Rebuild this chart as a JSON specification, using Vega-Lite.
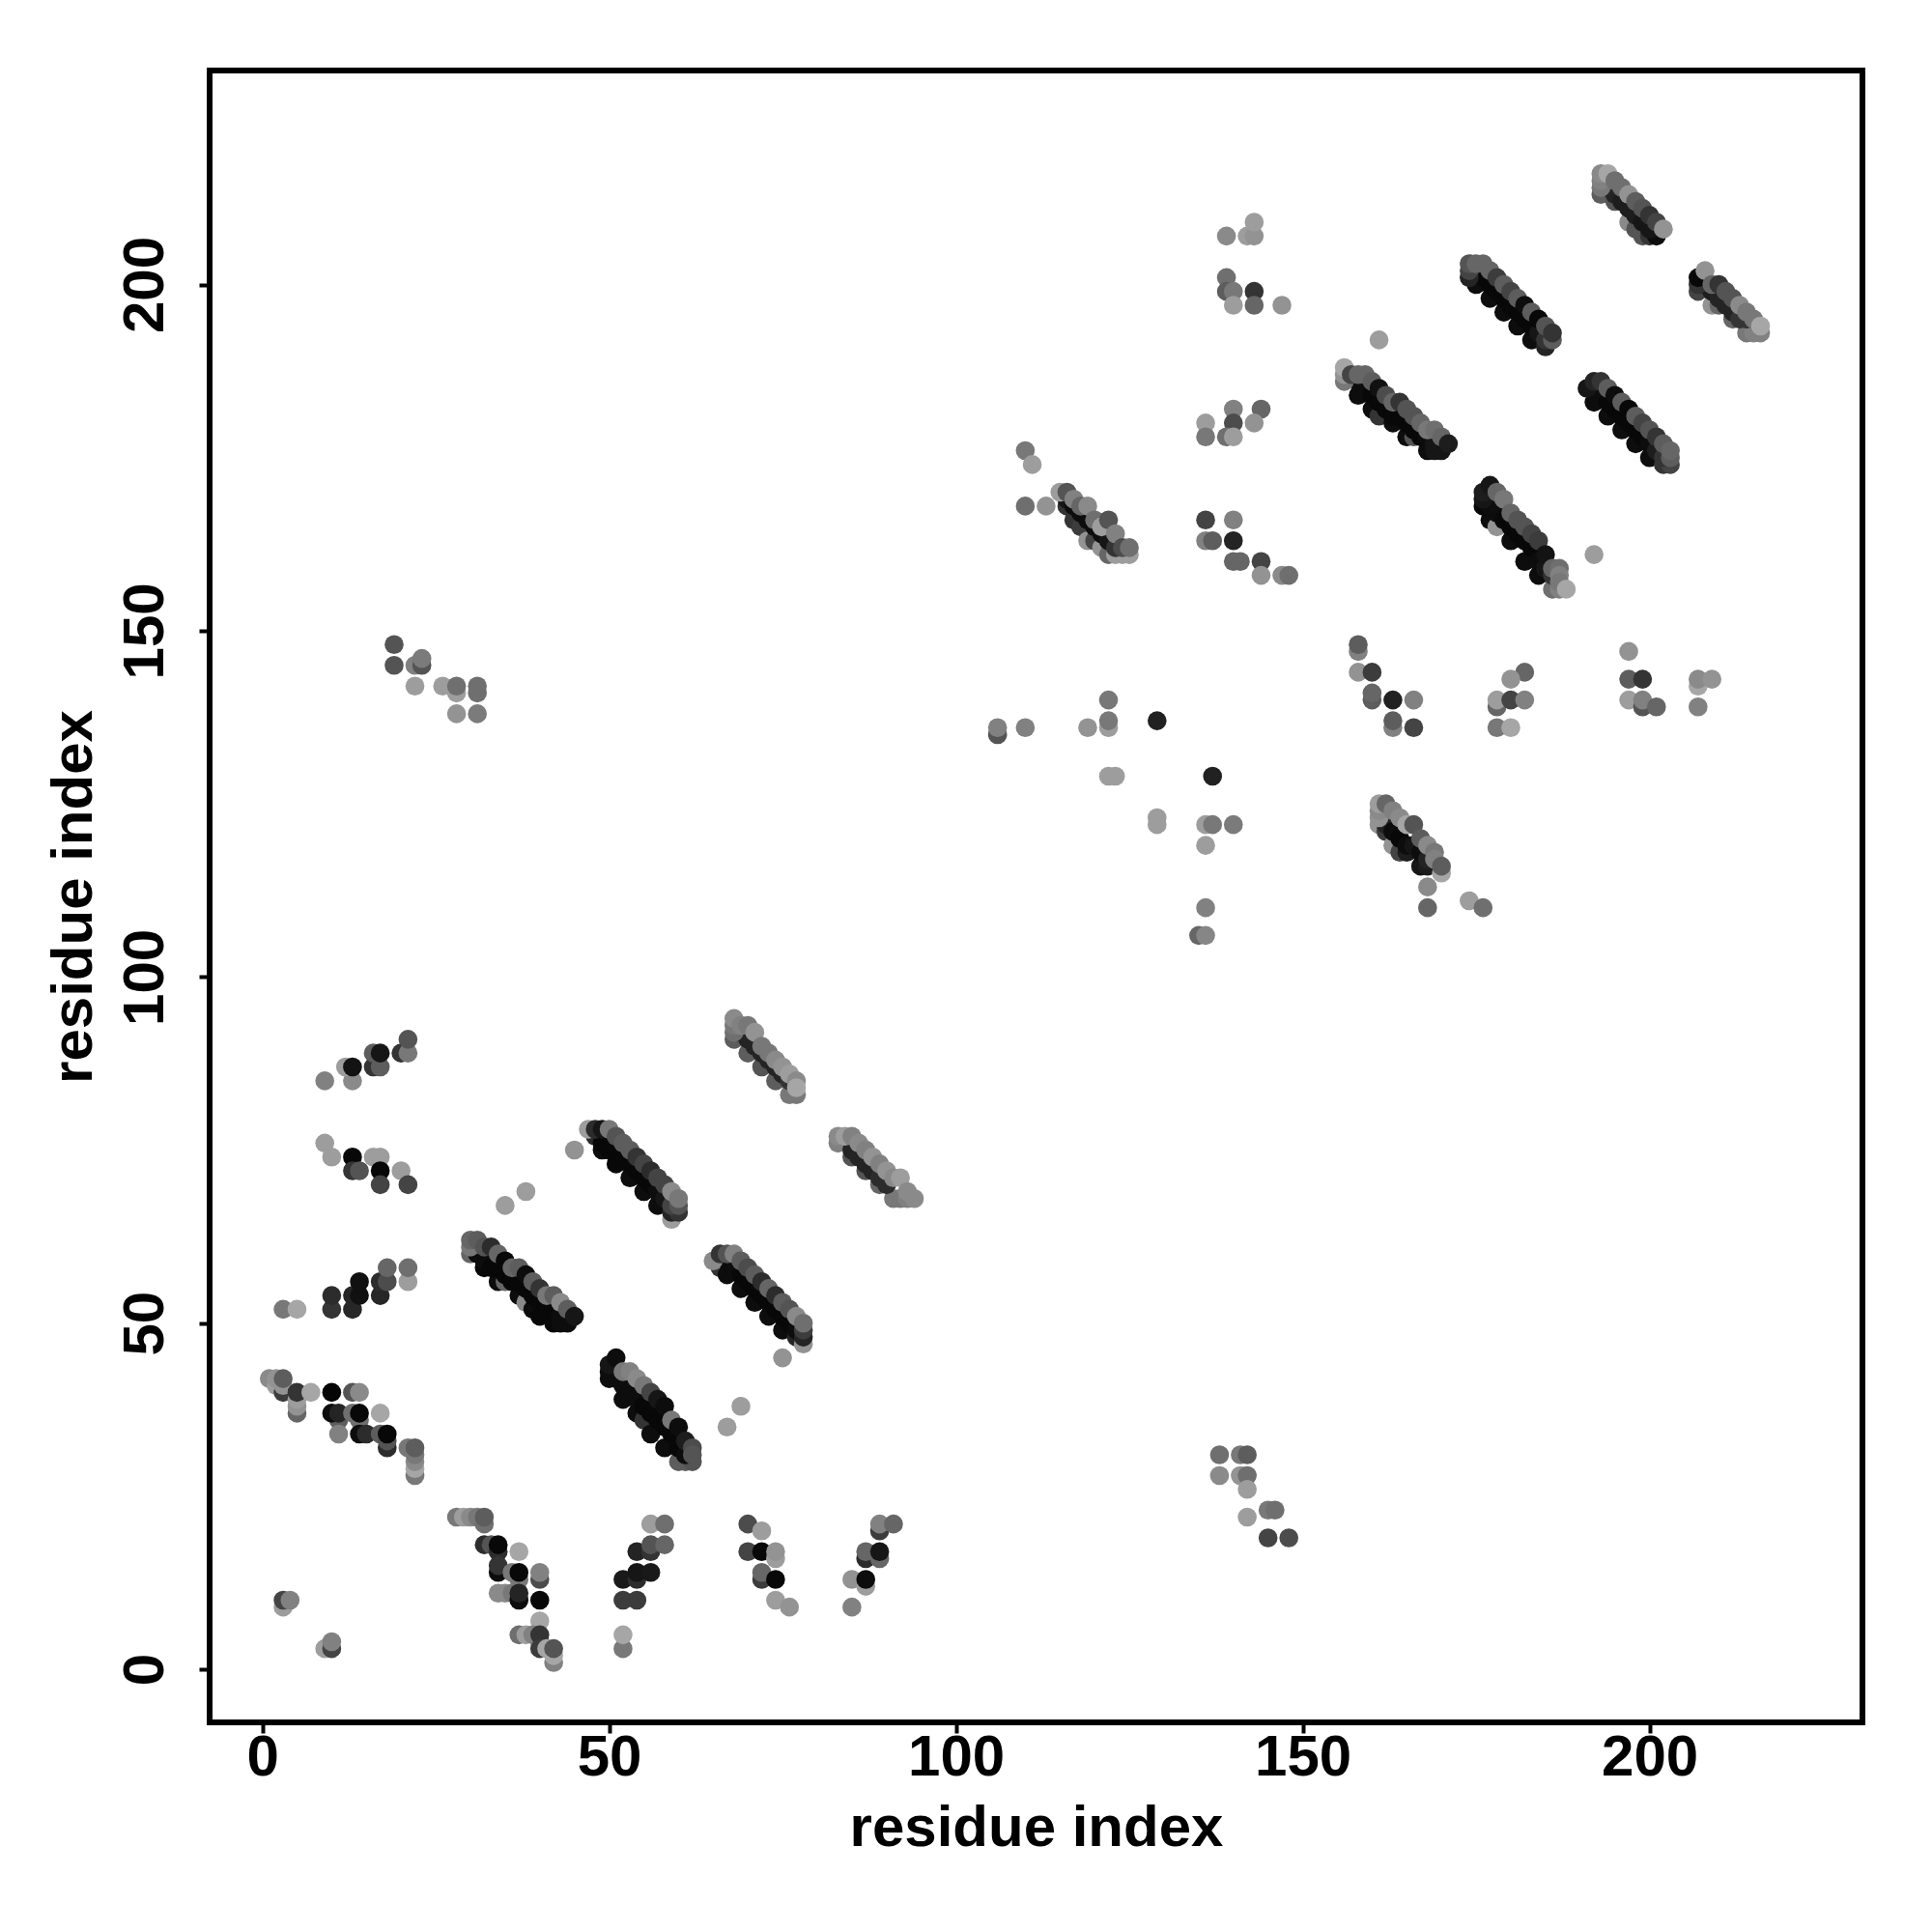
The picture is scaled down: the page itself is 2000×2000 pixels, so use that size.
{"$schema":"https://vega.github.io/schema/vega-lite/v6.json","width":1711,"height":1710,"autosize":{"type":"none"},"padding":{"left":217,"top":73,"right":72,"bottom":217},"background":"white","config":{"view":{"stroke":"black","strokeWidth":6,"fill":"white"},"font":"Liberation Sans"},"datasets":{"contacts":[
{"x":3,"y":9,"w":0.9},{"x":3,"y":10,"w":0.4},{"x":4,"y":10,"w":0.75},{"x":9,"y":3,"w":0.9},{"x":10,"y":3,"w":0.4},{"x":10,"y":4,"w":0.75},
{"x":28,"y":22,"w":0.7},{"x":29,"y":22,"w":0.9},{"x":30,"y":22,"w":0.8},{"x":31,"y":22,"w":0.7},{"x":32,"y":21,"w":0.65},{"x":32,"y":22,"w":0.55},{"x":32,"y":18,"w":0.25},{"x":33,"y":18,"w":0.5},{"x":34,"y":17,"w":0.25},{"x":34,"y":18,"w":0.03},{"x":34,"y":14,"w":0.05},{"x":34,"y":15,"w":0.3},{"x":34,"y":11,"w":0.8},{"x":37,"y":17,"w":0.95},{"x":36,"y":14,"w":0.7},{"x":37,"y":13,"w":0.7},{"x":37,"y":14,"w":0.03},{"x":35,"y":11,"w":0.8},{"x":36,"y":11,"w":0.7},{"x":37,"y":10,"w":0.05},{"x":37,"y":11,"w":0.2},{"x":40,"y":13,"w":0.45},{"x":40,"y":14,"w":0.75},{"x":40,"y":10,"w":0.03},{"x":40,"y":7,"w":0.95},{"x":40,"y":4,"w":0.6},{"x":37,"y":5,"w":0.65},{"x":38,"y":5,"w":0.9},{"x":39,"y":5,"w":0.75},{"x":40,"y":5,"w":0.3},{"x":40,"y":3,"w":0.35},{"x":41,"y":3,"w":0.95},{"x":42,"y":1,"w":0.75},{"x":42,"y":2,"w":0.95},{"x":42,"y":3,"w":0.5},
{"x":52,"y":10,"w":0.35},{"x":54,"y":10,"w":0.35},{"x":52,"y":13,"w":0.12},{"x":54,"y":13,"w":0.25},{"x":54,"y":14,"w":0.1},{"x":56,"y":14,"w":0.12},{"x":54,"y":17,"w":0.2},{"x":56,"y":17,"w":0.3},{"x":56,"y":18,"w":0.5},{"x":58,"y":18,"w":0.6},{"x":56,"y":21,"w":0.9},{"x":58,"y":21,"w":0.65},{"x":52,"y":3,"w":0.7},{"x":52,"y":5,"w":0.95},
{"x":70,"y":21,"w":0.45},{"x":72,"y":20,"w":0.9},{"x":70,"y":17,"w":0.4},{"x":72,"y":17,"w":0.03},{"x":74,"y":16,"w":0.9},{"x":74,"y":17,"w":0.85},{"x":72,"y":13,"w":0.35},{"x":72,"y":14,"w":0.6},{"x":74,"y":13,"w":0.03},{"x":74,"y":10,"w":0.9},{"x":76,"y":9,"w":0.85},
{"x":85,"y":9,"w":0.75},{"x":85,"y":13,"w":0.85},{"x":87,"y":12,"w":0.9},{"x":87,"y":13,"w":0.05},{"x":87,"y":16,"w":0.25},{"x":87,"y":17,"w":0.6},{"x":89,"y":16,"w":0.6},{"x":89,"y":17,"w":0.1},{"x":89,"y":20,"w":0.35},{"x":89,"y":21,"w":0.75},{"x":91,"y":21,"w":0.6},
{"x":1,"y":42,"w":0.8},{"x":2,"y":41,"w":0.9},{"x":2,"y":42,"w":0.85},{"x":3,"y":40,"w":0.35},{"x":3,"y":41,"w":0.85},{"x":3,"y":42,"w":0.55},{"x":5,"y":37,"w":0.6},{"x":5,"y":38,"w":0.85},{"x":5,"y":39,"w":0.9},{"x":5,"y":40,"w":0.3},{"x":7,"y":40,"w":0.95},
{"x":10,"y":40,"w":0.02},{"x":13,"y":40,"w":0.5},{"x":14,"y":40,"w":0.8},{"x":11,"y":36,"w":0.55},{"x":10,"y":37,"w":0.05},{"x":11,"y":37,"w":0.2},{"x":14,"y":36,"w":0.65},{"x":13,"y":37,"w":0.65},{"x":14,"y":37,"w":0.03},{"x":17,"y":37,"w":0.95},{"x":11,"y":34,"w":0.75},{"x":14,"y":34,"w":0.05},{"x":15,"y":34,"w":0.25},{"x":17,"y":34,"w":0.55},{"x":18,"y":32,"w":0.25},{"x":18,"y":33,"w":0.5},{"x":18,"y":34,"w":0.03},{"x":21,"y":32,"w":0.7},{"x":22,"y":28,"w":0.7},{"x":22,"y":29,"w":0.95},{"x":22,"y":30,"w":0.8},{"x":22,"y":31,"w":0.7},{"x":22,"y":32,"w":0.55},
{"x":3,"y":52,"w":0.7},{"x":5,"y":52,"w":0.95},{"x":10,"y":52,"w":0.3},{"x":10,"y":54,"w":0.25},{"x":13,"y":52,"w":0.22},{"x":13,"y":54,"w":0.22},{"x":14,"y":54,"w":0.07},{"x":14,"y":56,"w":0.07},{"x":17,"y":54,"w":0.22},{"x":17,"y":56,"w":0.25},{"x":18,"y":56,"w":0.45},{"x":18,"y":58,"w":0.6},{"x":21,"y":56,"w":0.9},{"x":21,"y":58,"w":0.65},
{"x":35,"y":67,"w":0.9},{"x":38,"y":69,"w":0.9},{"x":45,"y":75,"w":0.85},{"x":75,"y":45,"w":0.85},{"x":69,"y":38,"w":0.9},{"x":67,"y":35,"w":0.9},
{"x":19,"y":148,"w":0.5},{"x":19,"y":145,"w":0.5},{"x":22,"y":145,"w":0.75},{"x":23,"y":145,"w":0.5},{"x":23,"y":146,"w":0.72},{"x":22,"y":142,"w":0.9},{"x":26,"y":142,"w":0.9},{"x":28,"y":141,"w":0.9},{"x":28,"y":142,"w":0.65},{"x":31,"y":141,"w":0.65},{"x":31,"y":142,"w":0.65},{"x":28,"y":138,"w":0.85},{"x":31,"y":138,"w":0.72},
{"x":9,"y":85,"w":0.75},{"x":13,"y":85,"w":0.8},{"x":12,"y":87,"w":0.9},{"x":13,"y":87,"w":0.08},{"x":16,"y":87,"w":0.3},{"x":17,"y":87,"w":0.55},{"x":16,"y":89,"w":0.55},{"x":17,"y":89,"w":0.1},{"x":20,"y":89,"w":0.3},{"x":21,"y":89,"w":0.7},{"x":21,"y":91,"w":0.5},
{"x":9,"y":76,"w":0.9},{"x":10,"y":74,"w":0.9},{"x":13,"y":74,"w":0.03},{"x":16,"y":74,"w":0.9},{"x":17,"y":74,"w":0.9},{"x":13,"y":72,"w":0.3},{"x":14,"y":72,"w":0.5},{"x":17,"y":72,"w":0.03},{"x":20,"y":72,"w":0.9},{"x":17,"y":70,"w":0.4},{"x":21,"y":70,"w":0.4},
{"x":30,"y":60,"w":0.6},{"x":32,"y":58,"w":0.03},{"x":34,"y":56,"w":0.05},{"x":35,"y":56,"w":0.6},{"x":37,"y":54,"w":0.05},{"x":38,"y":53,"w":0.8},{"x":39,"y":52,"w":0.05},{"x":40,"y":51,"w":0.03},{"x":42,"y":50,"w":0.03},{"x":43,"y":50,"w":0.05},{"x":44,"y":50,"w":0.05},
{"x":31,"y":60,"w":0.05},{"x":32,"y":59,"w":0.05},{"x":33,"y":58,"w":0.03},{"x":34,"y":58,"w":0.03},{"x":35,"y":57,"w":0.03},{"x":36,"y":56,"w":0.03},{"x":37,"y":56,"w":0.03},{"x":38,"y":55,"w":0.03},{"x":39,"y":54,"w":0.03},{"x":40,"y":53,"w":0.03},{"x":41,"y":52,"w":0.03},{"x":42,"y":52,"w":0.03},{"x":43,"y":51,"w":0.05},{"x":44,"y":51,"w":0.05},
{"x":30,"y":61,"w":0.7},{"x":30,"y":62,"w":0.6},{"x":31,"y":62,"w":0.55},{"x":32,"y":61,"w":0.5},{"x":33,"y":61,"w":0.25},{"x":34,"y":60,"w":0.6},{"x":35,"y":59,"w":0.03},{"x":36,"y":58,"w":0.6},{"x":37,"y":58,"w":0.55},{"x":38,"y":57,"w":0.05},{"x":39,"y":56,"w":0.55},{"x":40,"y":55,"w":0.3},{"x":41,"y":54,"w":0.7},{"x":42,"y":54,"w":0.55},{"x":43,"y":53,"w":0.8},{"x":44,"y":52,"w":0.55},{"x":45,"y":51,"w":0.1},
{"x":50,"y":42,"w":0.05},{"x":52,"y":39,"w":0.05},{"x":54,"y":37,"w":0.05},{"x":55,"y":36,"w":0.3},{"x":56,"y":34,"w":0.05},{"x":58,"y":32,"w":0.05},{"x":60,"y":30,"w":0.55},{"x":61,"y":30,"w":0.55},{"x":62,"y":30,"w":0.5},
{"x":50,"y":43,"w":0.05},{"x":51,"y":42,"w":0.05},{"x":52,"y":41,"w":0.05},{"x":53,"y":40,"w":0.05},{"x":54,"y":39,"w":0.05},{"x":55,"y":38,"w":0.03},{"x":56,"y":37,"w":0.03},{"x":57,"y":36,"w":0.03},{"x":58,"y":35,"w":0.03},{"x":59,"y":34,"w":0.03},{"x":60,"y":32,"w":0.03},{"x":61,"y":31,"w":0.05},
{"x":50,"y":44,"w":0.1},{"x":51,"y":45,"w":0.05},{"x":52,"y":43,"w":0.7},{"x":53,"y":43,"w":0.75},{"x":54,"y":42,"w":0.8},{"x":55,"y":41,"w":0.7},{"x":56,"y":40,"w":0.4},{"x":57,"y":39,"w":0.1},{"x":58,"y":38,"w":0.05},{"x":59,"y":36,"w":0.7},{"x":60,"y":35,"w":0.05},{"x":61,"y":33,"w":0.15},{"x":62,"y":32,"w":0.45},{"x":62,"y":31,"w":0.5},
{"x":49,"y":75,"w":0.05},{"x":51,"y":73,"w":0.03},{"x":53,"y":71,"w":0.05},{"x":55,"y":69,"w":0.05},{"x":57,"y":67,"w":0.05},{"x":59,"y":65,"w":0.9},{"x":59,"y":66,"w":0.2},{"x":60,"y":66,"w":0.3},
{"x":48,"y":77,"w":0.25},{"x":49,"y":76,"w":0.03},{"x":50,"y":75,"w":0.03},{"x":51,"y":75,"w":0.03},{"x":52,"y":74,"w":0.03},{"x":53,"y":73,"w":0.03},{"x":54,"y":72,"w":0.03},{"x":55,"y":71,"w":0.03},{"x":56,"y":70,"w":0.03},{"x":57,"y":69,"w":0.05},{"x":58,"y":68,"w":0.1},{"x":59,"y":67,"w":0.4},{"x":60,"y":67,"w":0.5},
{"x":47,"y":78,"w":0.9},{"x":48,"y":78,"w":0.25},{"x":49,"y":78,"w":0.1},{"x":50,"y":78,"w":0.7},{"x":51,"y":77,"w":0.5},{"x":52,"y":76,"w":0.55},{"x":53,"y":75,"w":0.55},{"x":54,"y":74,"w":0.3},{"x":55,"y":73,"w":0.4},{"x":56,"y":72,"w":0.25},{"x":57,"y":71,"w":0.4},{"x":58,"y":70,"w":0.4},{"x":59,"y":69,"w":0.8},{"x":60,"y":68,"w":0.7},
{"x":66,"y":58,"w":0.3},{"x":67,"y":57,"w":0.05},{"x":69,"y":55,"w":0.05},{"x":71,"y":53,"w":0.05},{"x":73,"y":51,"w":0.05},{"x":75,"y":49,"w":0.05},{"x":77,"y":48,"w":0.2},{"x":78,"y":47,"w":0.85},
{"x":67,"y":59,"w":0.05},{"x":68,"y":58,"w":0.05},{"x":69,"y":57,"w":0.03},{"x":70,"y":56,"w":0.03},{"x":71,"y":55,"w":0.03},{"x":72,"y":54,"w":0.03},{"x":73,"y":53,"w":0.03},{"x":74,"y":52,"w":0.03},{"x":75,"y":51,"w":0.03},{"x":76,"y":50,"w":0.03},{"x":77,"y":49,"w":0.05},{"x":78,"y":48,"w":0.2},{"x":78,"y":49,"w":0.35},
{"x":65,"y":59,"w":0.8},{"x":66,"y":60,"w":0.3},{"x":67,"y":60,"w":0.5},{"x":68,"y":60,"w":0.75},{"x":69,"y":59,"w":0.55},{"x":70,"y":58,"w":0.45},{"x":71,"y":57,"w":0.55},{"x":72,"y":56,"w":0.25},{"x":73,"y":55,"w":0.6},{"x":74,"y":54,"w":0.25},{"x":75,"y":53,"w":0.55},{"x":76,"y":52,"w":0.5},{"x":77,"y":51,"w":0.8},{"x":78,"y":50,"w":0.65},
{"x":68,"y":91,"w":0.55},{"x":70,"y":89,"w":0.55},{"x":72,"y":87,"w":0.5},{"x":74,"y":85,"w":0.55},{"x":76,"y":83,"w":0.7},{"x":77,"y":83,"w":0.7},
{"x":69,"y":92,"w":0.2},{"x":70,"y":91,"w":0.2},{"x":71,"y":90,"w":0.2},{"x":72,"y":89,"w":0.2},{"x":73,"y":88,"w":0.2},{"x":74,"y":87,"w":0.2},{"x":75,"y":86,"w":0.2},{"x":76,"y":85,"w":0.3},
{"x":68,"y":92,"w":0.65},{"x":68,"y":93,"w":0.7},{"x":68,"y":94,"w":0.8},{"x":69,"y":93,"w":0.75},{"x":70,"y":93,"w":0.7},{"x":71,"y":92,"w":0.85},{"x":72,"y":90,"w":0.7},{"x":73,"y":89,"w":0.7},{"x":74,"y":88,"w":0.8},{"x":75,"y":87,"w":0.85},{"x":76,"y":86,"w":0.9},{"x":77,"y":85,"w":0.8},{"x":77,"y":84,"w":0.95},
{"x":83,"y":76,"w":0.75},{"x":85,"y":74,"w":0.5},{"x":87,"y":72,"w":0.5},{"x":89,"y":70,"w":0.6},{"x":91,"y":68,"w":0.7},{"x":92,"y":68,"w":0.7},{"x":93,"y":68,"w":0.75},
{"x":85,"y":75,"w":0.2},{"x":86,"y":74,"w":0.2},{"x":87,"y":73,"w":0.2},{"x":88,"y":72,"w":0.2},{"x":89,"y":71,"w":0.25},{"x":90,"y":70,"w":0.25},
{"x":83,"y":77,"w":0.8},{"x":84,"y":77,"w":0.9},{"x":85,"y":77,"w":0.75},{"x":86,"y":76,"w":0.8},{"x":87,"y":75,"w":0.75},{"x":88,"y":74,"w":0.85},{"x":89,"y":73,"w":0.75},{"x":90,"y":72,"w":0.85},{"x":91,"y":71,"w":0.8},{"x":92,"y":71,"w":0.9},{"x":93,"y":69,"w":0.8},{"x":94,"y":68,"w":0.8},
{"x":139,"y":207,"w":0.8},{"x":142,"y":207,"w":0.9},{"x":143,"y":207,"w":0.85},{"x":143,"y":209,"w":0.9},{"x":139,"y":201,"w":0.65},{"x":139,"y":199,"w":0.55},{"x":140,"y":199,"w":0.7},{"x":143,"y":199,"w":0.3},{"x":140,"y":197,"w":0.9},{"x":143,"y":197,"w":0.6},{"x":147,"y":197,"w":0.85},{"x":161,"y":192,"w":0.9},
{"x":140,"y":182,"w":0.75},{"x":144,"y":182,"w":0.6},{"x":136,"y":180,"w":0.9},{"x":140,"y":180,"w":0.45},{"x":143,"y":180,"w":0.85},{"x":136,"y":178,"w":0.7},{"x":139,"y":178,"w":0.65},{"x":140,"y":178,"w":0.9},{"x":110,"y":176,"w":0.7},{"x":111,"y":174,"w":0.9},{"x":110,"y":168,"w":0.65},{"x":113,"y":168,"w":0.85},
{"x":136,"y":166,"w":0.4},{"x":140,"y":166,"w":0.75},{"x":136,"y":163,"w":0.75},{"x":137,"y":163,"w":0.55},{"x":140,"y":163,"w":0.2},{"x":140,"y":160,"w":0.6},{"x":141,"y":160,"w":0.6},{"x":144,"y":160,"w":0.4},{"x":144,"y":158,"w":0.85},{"x":147,"y":158,"w":0.8},{"x":148,"y":158,"w":0.65},{"x":192,"y":161,"w":0.9},
{"x":116,"y":168,"w":0.3},{"x":117,"y":166,"w":0.3},{"x":118,"y":165,"w":0.35},{"x":119,"y":163,"w":0.85},{"x":120,"y":163,"w":0.4},{"x":121,"y":162,"w":0.85},{"x":122,"y":161,"w":0.6},{"x":123,"y":161,"w":0.9},{"x":124,"y":161,"w":0.9},{"x":125,"y":161,"w":0.9},
{"x":116,"y":169,"w":0.1},{"x":117,"y":168,"w":0.05},{"x":118,"y":167,"w":0.05},{"x":119,"y":166,"w":0.05},{"x":120,"y":165,"w":0.05},{"x":121,"y":164,"w":0.05},{"x":122,"y":163,"w":0.1},{"x":123,"y":162,"w":0.3},
{"x":115,"y":170,"w":0.9},{"x":116,"y":170,"w":0.5},{"x":117,"y":169,"w":0.75},{"x":118,"y":168,"w":0.6},{"x":119,"y":168,"w":0.8},{"x":120,"y":166,"w":0.65},{"x":121,"y":165,"w":0.9},{"x":122,"y":166,"w":0.5},{"x":123,"y":164,"w":0.75},{"x":124,"y":162,"w":0.45},{"x":125,"y":162,"w":0.65},
{"x":158,"y":184,"w":0.05},{"x":160,"y":182,"w":0.05},{"x":161,"y":181,"w":0.3},{"x":163,"y":180,"w":0.05},{"x":165,"y":178,"w":0.05},{"x":166,"y":178,"w":0.5},{"x":168,"y":176,"w":0.05},{"x":169,"y":176,"w":0.1},{"x":170,"y":176,"w":0.1},
{"x":158,"y":186,"w":0.05},{"x":159,"y":185,"w":0.05},{"x":160,"y":184,"w":0.03},{"x":161,"y":183,"w":0.03},{"x":162,"y":182,"w":0.03},{"x":163,"y":181,"w":0.03},{"x":164,"y":181,"w":0.03},{"x":165,"y":180,"w":0.03},{"x":166,"y":179,"w":0.03},{"x":167,"y":178,"w":0.03},{"x":168,"y":178,"w":0.05},{"x":169,"y":177,"w":0.1},
{"x":156,"y":186,"w":0.7},{"x":156,"y":187,"w":0.85},{"x":156,"y":188,"w":0.95},{"x":157,"y":187,"w":0.4},{"x":158,"y":187,"w":0.6},{"x":159,"y":187,"w":0.6},{"x":160,"y":186,"w":0.55},{"x":161,"y":185,"w":0.07},{"x":162,"y":184,"w":0.45},{"x":163,"y":183,"w":0.6},{"x":164,"y":183,"w":0.3},{"x":165,"y":182,"w":0.5},{"x":166,"y":181,"w":0.5},{"x":167,"y":180,"w":0.6},{"x":168,"y":179,"w":0.7},{"x":169,"y":179,"w":0.65},{"x":170,"y":178,"w":0.6},{"x":171,"y":177,"w":0.15},
{"x":175,"y":200,"w":0.05},{"x":177,"y":198,"w":0.05},{"x":179,"y":196,"w":0.05},{"x":181,"y":194,"w":0.05},{"x":183,"y":192,"w":0.05},{"x":185,"y":191,"w":0.2},
{"x":175,"y":202,"w":0.05},{"x":176,"y":201,"w":0.03},{"x":177,"y":200,"w":0.03},{"x":178,"y":199,"w":0.03},{"x":179,"y":198,"w":0.03},{"x":180,"y":197,"w":0.03},{"x":181,"y":196,"w":0.03},{"x":182,"y":195,"w":0.03},{"x":183,"y":194,"w":0.03},{"x":184,"y":193,"w":0.1},{"x":185,"y":192,"w":0.3},
{"x":174,"y":201,"w":0.2},{"x":174,"y":202,"w":0.4},{"x":174,"y":203,"w":0.5},{"x":175,"y":203,"w":0.6},{"x":176,"y":203,"w":0.6},{"x":177,"y":202,"w":0.6},{"x":178,"y":201,"w":0.35},{"x":179,"y":200,"w":0.55},{"x":180,"y":199,"w":0.4},{"x":181,"y":198,"w":0.55},{"x":182,"y":197,"w":0.05},{"x":183,"y":196,"w":0.55},{"x":184,"y":195,"w":0.03},{"x":185,"y":194,"w":0.5},{"x":186,"y":192,"w":0.55},{"x":186,"y":193,"w":0.3},
{"x":192,"y":183,"w":0.05},{"x":194,"y":181,"w":0.05},{"x":196,"y":179,"w":0.05},{"x":198,"y":177,"w":0.05},{"x":200,"y":175,"w":0.05},{"x":202,"y":174,"w":0.3},{"x":203,"y":174,"w":0.4},
{"x":192,"y":185,"w":0.05},{"x":193,"y":184,"w":0.05},{"x":194,"y":183,"w":0.03},{"x":195,"y":182,"w":0.03},{"x":196,"y":181,"w":0.03},{"x":197,"y":180,"w":0.03},{"x":198,"y":179,"w":0.03},{"x":199,"y":178,"w":0.03},{"x":200,"y":177,"w":0.05},{"x":201,"y":176,"w":0.15},{"x":202,"y":175,"w":0.3},
{"x":191,"y":185,"w":0.1},{"x":192,"y":186,"w":0.2},{"x":193,"y":186,"w":0.3},{"x":194,"y":185,"w":0.55},{"x":195,"y":184,"w":0.05},{"x":196,"y":183,"w":0.55},{"x":197,"y":182,"w":0.03},{"x":198,"y":181,"w":0.55},{"x":199,"y":180,"w":0.4},{"x":200,"y":179,"w":0.5},{"x":201,"y":178,"w":0.3},{"x":202,"y":177,"w":0.55},{"x":203,"y":175,"w":0.55},{"x":203,"y":176,"w":0.6},
{"x":177,"y":166,"w":0.05},{"x":178,"y":165,"w":0.85},{"x":180,"y":163,"w":0.05},{"x":182,"y":160,"w":0.05},{"x":184,"y":158,"w":0.05},{"x":186,"y":156,"w":0.65},{"x":187,"y":156,"w":0.75},
{"x":176,"y":168,"w":0.03},{"x":177,"y":168,"w":0.05},{"x":178,"y":167,"w":0.05},{"x":179,"y":166,"w":0.03},{"x":180,"y":165,"w":0.03},{"x":181,"y":164,"w":0.03},{"x":182,"y":163,"w":0.03},{"x":183,"y":162,"w":0.03},{"x":184,"y":160,"w":0.05},{"x":185,"y":159,"w":0.1},{"x":186,"y":158,"w":0.3},
{"x":176,"y":169,"w":0.1},{"x":176,"y":170,"w":0.15},{"x":177,"y":171,"w":0.1},{"x":178,"y":170,"w":0.6},{"x":179,"y":169,"w":0.7},{"x":180,"y":167,"w":0.6},{"x":181,"y":166,"w":0.5},{"x":182,"y":165,"w":0.5},{"x":183,"y":164,"w":0.4},{"x":184,"y":163,"w":0.35},{"x":185,"y":161,"w":0.08},{"x":186,"y":159,"w":0.6},{"x":187,"y":159,"w":0.65},{"x":187,"y":158,"w":0.75},{"x":187,"y":157,"w":0.7},{"x":188,"y":156,"w":0.95},
{"x":193,"y":213,"w":0.55},{"x":195,"y":212,"w":0.5},{"x":197,"y":209,"w":0.8},{"x":198,"y":208,"w":0.5},{"x":199,"y":207,"w":0.5},{"x":200,"y":207,"w":0.3},{"x":201,"y":207,"w":0.05},
{"x":194,"y":214,"w":0.2},{"x":195,"y":213,"w":0.2},{"x":196,"y":212,"w":0.15},{"x":197,"y":211,"w":0.15},{"x":198,"y":210,"w":0.15},{"x":199,"y":209,"w":0.1},{"x":200,"y":208,"w":0.1},
{"x":193,"y":214,"w":0.7},{"x":193,"y":215,"w":0.75},{"x":193,"y":216,"w":0.8},{"x":194,"y":216,"w":0.95},{"x":195,"y":215,"w":0.65},{"x":196,"y":214,"w":0.65},{"x":197,"y":213,"w":0.85},{"x":198,"y":212,"w":0.55},{"x":199,"y":211,"w":0.5},{"x":200,"y":210,"w":0.3},{"x":201,"y":209,"w":0.4},{"x":202,"y":208,"w":0.85},
{"x":207,"y":199,"w":0.4},{"x":209,"y":197,"w":0.85},{"x":210,"y":197,"w":0.6},{"x":212,"y":195,"w":0.6},{"x":214,"y":193,"w":0.7},{"x":215,"y":193,"w":0.75},{"x":216,"y":193,"w":0.75},
{"x":208,"y":200,"w":0.1},{"x":209,"y":199,"w":0.15},{"x":210,"y":198,"w":0.2},{"x":211,"y":197,"w":0.2},{"x":212,"y":196,"w":0.2},{"x":213,"y":195,"w":0.3},{"x":214,"y":195,"w":0.3},
{"x":207,"y":200,"w":0.3},{"x":207,"y":201,"w":0.03},{"x":208,"y":202,"w":0.85},{"x":209,"y":200,"w":0.6},{"x":210,"y":200,"w":0.3},{"x":211,"y":199,"w":0.5},{"x":212,"y":198,"w":0.5},{"x":213,"y":197,"w":0.8},{"x":214,"y":196,"w":0.7},{"x":215,"y":195,"w":0.7},{"x":216,"y":194,"w":0.95},
{"x":106,"y":135,"w":0.5},{"x":106,"y":136,"w":0.75},{"x":110,"y":136,"w":0.75},{"x":119,"y":136,"w":0.85},{"x":122,"y":136,"w":0.9},{"x":122,"y":137,"w":0.7},{"x":122,"y":140,"w":0.7},{"x":129,"y":137,"w":0.18},{"x":122,"y":129,"w":0.9},{"x":123,"y":129,"w":0.9},{"x":137,"y":129,"w":0.18},{"x":129,"y":122,"w":0.9},{"x":129,"y":123,"w":0.9},{"x":136,"y":122,"w":0.9},{"x":137,"y":122,"w":0.7},{"x":140,"y":122,"w":0.72},{"x":136,"y":119,"w":0.9},{"x":136,"y":110,"w":0.75},{"x":135,"y":106,"w":0.6},{"x":136,"y":106,"w":0.78},
{"x":161,"y":122,"w":0.85},{"x":162,"y":121,"w":0.35},{"x":163,"y":119,"w":0.85},{"x":164,"y":118,"w":0.4},{"x":165,"y":118,"w":0.15},{"x":167,"y":116,"w":0.1},{"x":168,"y":116,"w":0.15},
{"x":162,"y":122,"w":0.2},{"x":163,"y":121,"w":0.05},{"x":164,"y":120,"w":0.03},{"x":165,"y":119,"w":0.05},{"x":166,"y":119,"w":0.1},{"x":167,"y":118,"w":0.05},{"x":168,"y":117,"w":0.2},
{"x":161,"y":123,"w":0.85},{"x":161,"y":124,"w":0.8},{"x":161,"y":125,"w":0.9},{"x":162,"y":125,"w":0.6},{"x":163,"y":124,"w":0.75},{"x":164,"y":123,"w":0.8},{"x":165,"y":122,"w":0.95},{"x":166,"y":122,"w":0.5},{"x":167,"y":120,"w":0.55},{"x":168,"y":119,"w":0.8},{"x":169,"y":118,"w":0.7},{"x":170,"y":115,"w":0.95},{"x":169,"y":117,"w":0.75},{"x":170,"y":116,"w":0.55},
{"x":168,"y":113,"w":0.8},{"x":168,"y":110,"w":0.6},{"x":174,"y":111,"w":0.9},{"x":176,"y":110,"w":0.65},
{"x":158,"y":147,"w":0.75},{"x":158,"y":148,"w":0.55},{"x":158,"y":144,"w":0.85},{"x":160,"y":144,"w":0.35},{"x":160,"y":140,"w":0.55},{"x":160,"y":141,"w":0.6},{"x":163,"y":140,"w":0.18},{"x":166,"y":140,"w":0.75},{"x":163,"y":136,"w":0.75},{"x":163,"y":137,"w":0.55},{"x":166,"y":136,"w":0.4},
{"x":182,"y":144,"w":0.6},{"x":180,"y":143,"w":0.85},{"x":178,"y":139,"w":0.6},{"x":178,"y":140,"w":0.9},{"x":180,"y":140,"w":0.4},{"x":182,"y":140,"w":0.75},{"x":178,"y":136,"w":0.7},{"x":180,"y":136,"w":0.95},
{"x":197,"y":147,"w":0.85},{"x":197,"y":143,"w":0.55},{"x":199,"y":143,"w":0.3},{"x":197,"y":140,"w":0.9},{"x":199,"y":139,"w":0.5},{"x":199,"y":140,"w":0.75},{"x":201,"y":139,"w":0.6},{"x":207,"y":142,"w":0.95},{"x":207,"y":143,"w":0.8},{"x":209,"y":143,"w":0.85},{"x":207,"y":139,"w":0.75},
{"x":138,"y":31,"w":0.65},{"x":141,"y":31,"w":0.7},{"x":142,"y":31,"w":0.55},{"x":138,"y":28,"w":0.8},{"x":141,"y":28,"w":0.85},{"x":142,"y":28,"w":0.65},{"x":142,"y":26,"w":0.9},{"x":142,"y":22,"w":0.9},{"x":145,"y":23,"w":0.7},{"x":146,"y":23,"w":0.65},{"x":145,"y":19,"w":0.4},{"x":148,"y":19,"w":0.45}
]},"data":{"name":"contacts"},"mark":{"type":"circle","size":385,"opacity":1},"encoding":{"x":{"field":"x","type":"quantitative","scale":{"domain":[-7.6,230.7],"nice":false,"zero":false},"axis":{"title":"residue index","values":[0,50,100,150,200],"grid":false,"domain":false,"tickColor":"black","tickWidth":4,"tickSize":11,"labelFont":"Liberation Sans","labelFontWeight":"bold","labelFontSize":60,"labelColor":"black","labelPadding":-4,"labelFlush":false,"titleFont":"Liberation Sans","titleFontWeight":"bold","titleFontSize":60,"titleColor":"black","titlePadding":14}},"y":{"field":"y","type":"quantitative","scale":{"domain":[-7.65,230.9],"nice":false,"zero":false},"axis":{"title":"residue index","values":[0,50,100,150,200],"grid":false,"domain":false,"tickColor":"black","tickWidth":4,"tickSize":11,"labelFont":"Liberation Sans","labelFontWeight":"bold","labelFontSize":60,"labelColor":"black","labelAngle":-90,"labelAlign":"center","labelBaseline":"bottom","labelPadding":25,"labelFlush":false,"titleFont":"Liberation Sans","titleFontWeight":"bold","titleFontSize":60,"titleColor":"black","titlePadding":13}},"color":{"field":"w","type":"quantitative","scale":{"domain":[0,1],"range":["#000000","#b0b0b0"]},"legend":null}}}
